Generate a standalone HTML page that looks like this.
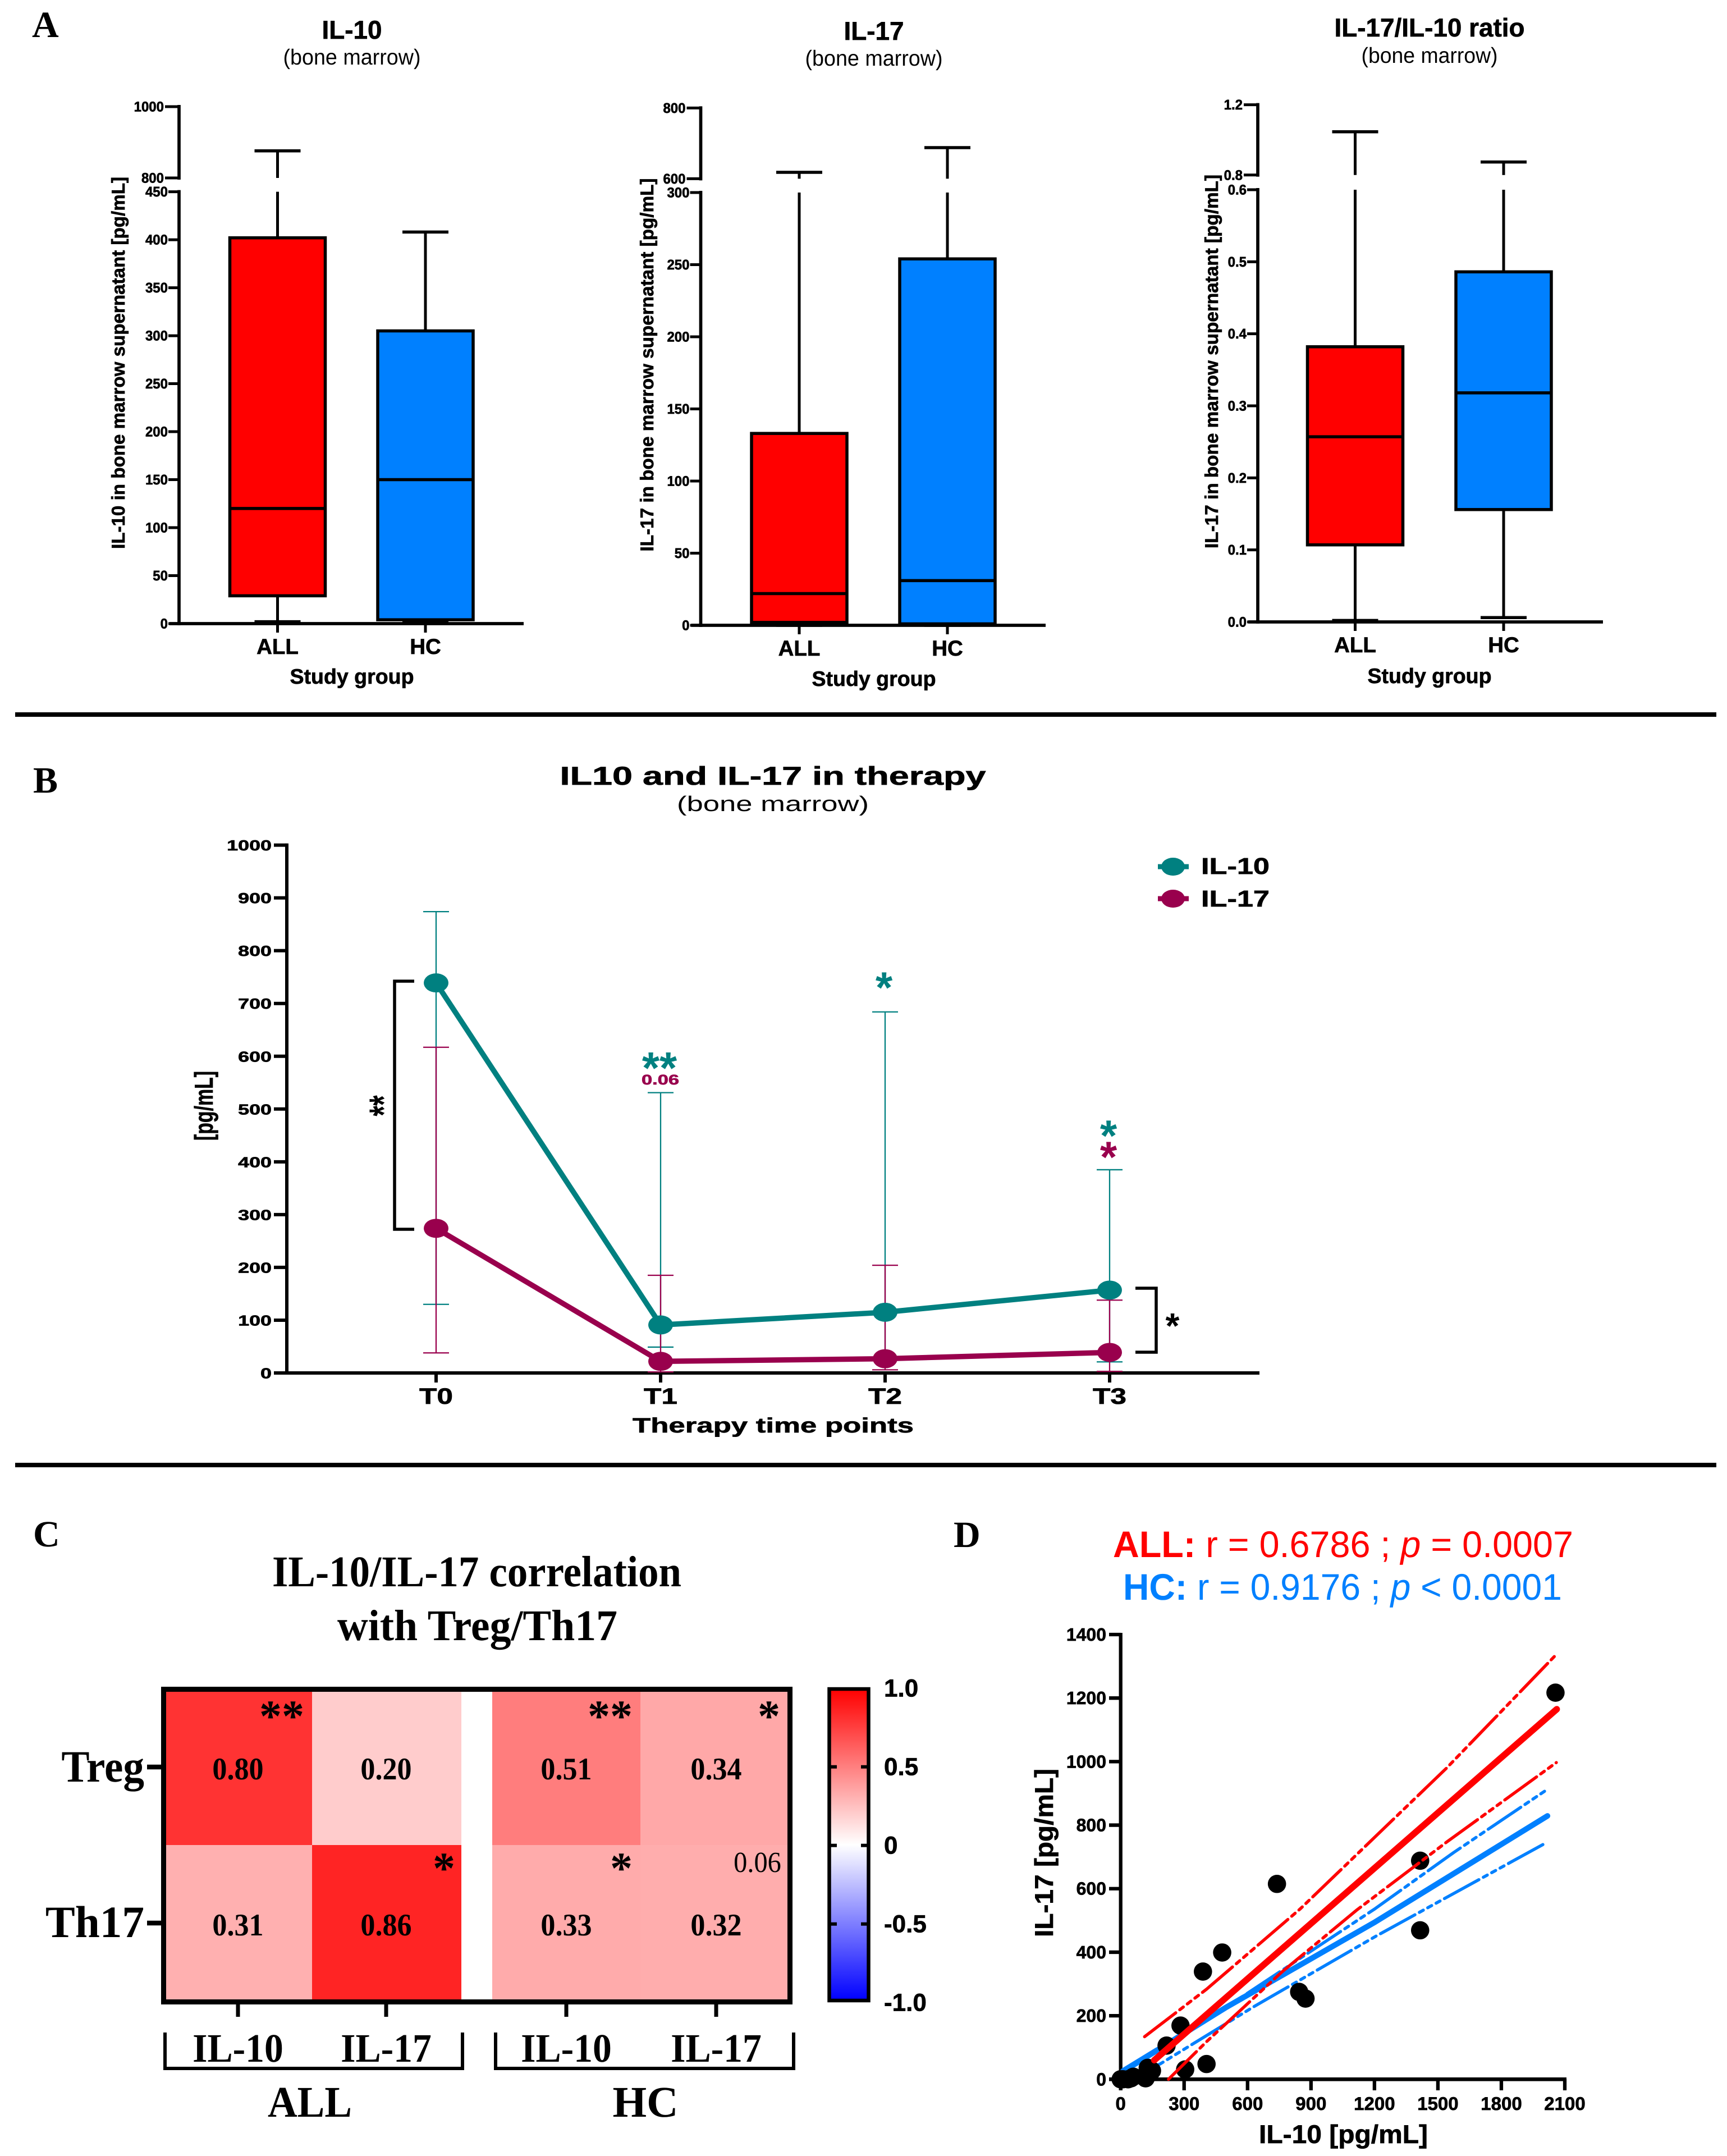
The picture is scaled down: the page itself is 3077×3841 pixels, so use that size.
<!DOCTYPE html>
<html lang="en">
<head>
<meta charset="utf-8">
<title>IL-10 and IL-17 figure</title>
<style>
html,body{margin:0;padding:0;background:#fff;}
svg{display:block;text-rendering:geometricPrecision;}
text{fill:#000;}
.sans{font-family:"Liberation Sans",sans-serif;}
.serif{font-family:"Liberation Serif",serif;}
.b{font-weight:700;}
.fat{stroke:#000;stroke-width:.7px;}
</style>
</head>
<body>
<svg id="chart" xmlns="http://www.w3.org/2000/svg" width="3077" height="3841" viewBox="0 0 3077 3841">
<defs>
<linearGradient id="cbar" x1="0" y1="0" x2="0" y2="1">
<stop offset="0" stop-color="#ff0000"/><stop offset="0.5" stop-color="#ffffff"/><stop offset="1" stop-color="#0000ff"/>
</linearGradient>
</defs>
<rect width="3077" height="3841" fill="#fff"/>
<rect x="27" y="1269" width="3031" height="8" fill="#000"/>
<rect x="27" y="2606" width="3031" height="8" fill="#000"/>

<text class="serif b" x="57" y="66" font-size="66">A</text>
<text class="serif b" x="59" y="1412" font-size="66">B</text>
<text class="serif b" x="59" y="2755" font-size="66">C</text>
<text class="serif b" x="1699" y="2756" font-size="66">D</text>

<text class="sans b fat" x="627" y="69" font-size="46" text-anchor="middle" textLength="107" lengthAdjust="spacingAndGlyphs">IL-10</text>
<text class="sans" x="627" y="115" font-size="39" text-anchor="middle" textLength="245" lengthAdjust="spacingAndGlyphs">(bone marrow)</text>
<text class="sans b fat" font-size="33" text-anchor="middle" textLength="663" lengthAdjust="spacingAndGlyphs" transform="translate(222 646.5) rotate(-90)">IL-10 in bone marrow supernatant [pg/mL]</text>
<text class="sans b fat" x="627" y="1218" font-size="37.5" text-anchor="middle" textLength="221" lengthAdjust="spacingAndGlyphs">Study group</text>

<text class="sans b fat" x="1557" y="71" font-size="46" text-anchor="middle" textLength="107" lengthAdjust="spacingAndGlyphs">IL-17</text>
<text class="sans" x="1557" y="117" font-size="39" text-anchor="middle" textLength="245" lengthAdjust="spacingAndGlyphs">(bone marrow)</text>
<text class="sans b fat" font-size="33" text-anchor="middle" textLength="665" lengthAdjust="spacingAndGlyphs" transform="translate(1164 650) rotate(-90)">IL-17 in bone marrow supernatant [pg/mL]</text>
<text class="sans b fat" x="1557" y="1222" font-size="37.5" text-anchor="middle" textLength="221" lengthAdjust="spacingAndGlyphs">Study group</text>

<text class="sans b fat" x="2547" y="65" font-size="46" text-anchor="middle" textLength="339" lengthAdjust="spacingAndGlyphs">IL-17/IL-10 ratio</text>
<text class="sans" x="2547" y="112" font-size="39" text-anchor="middle" textLength="243" lengthAdjust="spacingAndGlyphs">(bone marrow)</text>
<text class="sans b fat" font-size="33" text-anchor="middle" textLength="666" lengthAdjust="spacingAndGlyphs" transform="translate(2170 644) rotate(-90)">IL-17 in bone marrow supernatant [pg/mL]</text>
<text class="sans b fat" x="2547" y="1217" font-size="37.5" text-anchor="middle" textLength="221" lengthAdjust="spacingAndGlyphs">Study group</text>

<text class="sans b fat" x="1377" y="1398" font-size="46" text-anchor="middle" textLength="759" lengthAdjust="spacingAndGlyphs">IL10 and IL-17 in therapy</text>
<text class="sans" x="1377" y="1445" font-size="38" text-anchor="middle" textLength="342" lengthAdjust="spacingAndGlyphs">(bone marrow)</text>
<text class="sans b fat" font-size="46" text-anchor="middle" textLength="124" lengthAdjust="spacingAndGlyphs" transform="translate(379 1970) rotate(-90)">[pg/mL]</text>
<text class="sans b fat" x="1377.5" y="2552" font-size="37" text-anchor="middle" textLength="501" lengthAdjust="spacingAndGlyphs">Therapy time points</text>
<text class="sans b fat" x="2140" y="1557" font-size="41" textLength="122" lengthAdjust="spacingAndGlyphs">IL-10</text>
<text class="sans b fat" x="2140" y="1615" font-size="41" textLength="122" lengthAdjust="spacingAndGlyphs">IL-17</text>
<text class="sans b" x="1175" y="1930" font-size="80" text-anchor="middle" style="fill:#008080">**</text>
<text class="sans b" x="1176.5" y="1932" font-size="25" text-anchor="middle" textLength="67" lengthAdjust="spacingAndGlyphs" style="fill:#99004d;stroke:#99004d;stroke-width:.7px">0.06</text>
<text class="sans b" x="1575" y="1786" font-size="78" text-anchor="middle" style="fill:#008080">*</text>
<text class="sans b" x="1975" y="2050" font-size="78" text-anchor="middle" style="fill:#008080">*</text>
<text class="sans b" x="1975" y="2088" font-size="78" text-anchor="middle" style="fill:#99004d">*</text>
<polyline points="738,1748 703,1748 703,2190 738,2190" fill="none" stroke="#000" stroke-width="5.5"/>
<text class="sans b" font-size="48" text-anchor="middle" transform="translate(708 1970) rotate(-90) scale(1 1.5)">**</text>
<polyline points="2023,2295 2060,2295 2060,2409 2023,2409" fill="none" stroke="#000" stroke-width="5.5"/>
<text class="sans b" x="2089" y="2384" font-size="64" text-anchor="middle">*</text>

<text class="serif b" x="849.5" y="2826" font-size="78" text-anchor="middle" textLength="729" lengthAdjust="spacingAndGlyphs">IL-10/IL-17 correlation</text>
<text class="serif b" x="850.5" y="2922" font-size="78" text-anchor="middle" textLength="499" lengthAdjust="spacingAndGlyphs">with Treg/Th17</text>
<polyline points="294,3621 294,3685 824,3685 824,3621" fill="none" stroke="#000" stroke-width="6"/>
<polyline points="883,3621 883,3685 1414,3685 1414,3621" fill="none" stroke="#000" stroke-width="6"/>
<text class="serif b" x="552" y="3771" font-size="78" text-anchor="middle" textLength="150" lengthAdjust="spacingAndGlyphs">ALL</text>
<text class="serif b" x="1150" y="3771" font-size="78" text-anchor="middle" textLength="117" lengthAdjust="spacingAndGlyphs">HC</text>

<text class="sans" x="1983" y="2774" font-size="66" textLength="820" lengthAdjust="spacingAndGlyphs" style="fill:#ff0000"><tspan class="b" style="fill:#ff0000">ALL:</tspan> r = 0.6786 ; <tspan font-style="italic" style="fill:#ff0000">p</tspan> = 0.0007</text>
<text class="sans" x="2001" y="2850" font-size="66" textLength="782" lengthAdjust="spacingAndGlyphs" style="fill:#0080ff"><tspan class="b" style="fill:#0080ff">HC:</tspan> r = 0.9176 ; <tspan font-style="italic" style="fill:#0080ff">p</tspan> &lt; 0.0001</text>
<text class="sans b fat" font-size="46" text-anchor="middle" textLength="300" lengthAdjust="spacingAndGlyphs" transform="translate(1876 3301) rotate(-90)">IL-17 [pg/mL]</text>
<text class="sans b fat" x="2393.5" y="3818" font-size="46" text-anchor="middle" textLength="301" lengthAdjust="spacingAndGlyphs">IL-10 [pg/mL]</text>
</svg>

<script>
// ---------- Panel A data: [min, Q1, median, Q3, max] ----------
const groupLabels = ['ALL', 'HC'];
const il10All = [2, 29, 120, 402, 876];
const il10Hc = [3, 4, 150, 305, 408];
const il10LowerTicks = ['0', '50', '100', '150', '200', '250', '300', '350', '400', '450'];
const il10UpperTicks = ['800', '1000'];
const il17All = [0, 2, 22, 133, 618];
const il17Hc = [0, 1, 31, 254, 688];
const il17LowerTicks = ['0', '50', '100', '150', '200', '250', '300'];
const il17UpperTicks = ['600', '800'];
const ratioAll = [0.002, 0.107, 0.257, 0.382, 1.046];
const ratioHc = [0.006, 0.156, 0.318, 0.486, 0.874];
const ratioLowerTicks = ['0.0', '0.1', '0.2', '0.3', '0.4', '0.5', '0.6'];
const ratioUpperTicks = ['0.8', '1.2'];

// ---------- Panel B data ----------
const timePoints = ['T0', 'T1', 'T2', 'T3'];
const il10Mean = [739, 91, 115, 157];
const il10Upper = [874, 531, 684, 385];
const il10Lower = [130, 49, 30, 21];
const il17Mean = [274, 22, 27, 39];
const il17Upper = [617, 185, 204, 138];
const il17Lower = [38, 2, 6, 3];
const therapyTicks = ['0', '100', '200', '300', '400', '500', '600', '700', '800', '900', '1000'];

// ---------- Panel C data ----------
const heatRows = ['Treg', 'Th17'];
const heatCols = ['IL-10', 'IL-17', 'IL-10', 'IL-17'];
const tregValues = [0.80, 0.20, 0.51, 0.34];
const th17Values = [0.31, 0.86, 0.33, 0.32];
const tregStars = ['**', '', '**', '*'];
const th17Stars = ['', '*', '*', ''];
const colorbarTicks = ['1.0', '0.5', '0', '-0.5', '-1.0'];

// ---------- Panel D data ----------
const scatterX = [2056, 1416, 1416, 739, 480, 389, 844, 874, 283, 217, 406, 305, 128, 148, 118, 49, 0, 10, 35, 60];
const scatterY = [1217, 688, 469, 615, 399, 339, 275, 254, 169, 106, 48, 31, 36, 27, 3, 3, 0, 0, 0, 8];
const allFitX = [159, 2062];
const allFitY = [60, 1165];
const allUpperX = [113, 407, 850, 1540, 2058];
const allUpperY = [134, 284, 537, 979, 1336];
const allLowerX = [226, 407, 761, 1115, 1540, 2060];
const allLowerY = [0, 119, 337, 532, 746, 997];
const hcFitX = [5, 495, 1203, 2018];
const hcFitY = [22, 225, 495, 829];
const hcUpperX = [9, 584, 1203, 1575, 2005];
const hcUpperY = [30, 264, 537, 714, 907];
const hcLowerX = [30, 186, 628, 1203, 2005];
const hcLowerY = [5, 48, 228, 449, 742];
const scatterXTicks = ['0', '300', '600', '900', '1200', '1500', '1800', '2100'];
const scatterYTicks = ['0', '200', '400', '600', '800', '1000', '1200', '1400'];

// ---------- Helpers ----------
const NS = 'http://www.w3.org/2000/svg';
const svg = document.getElementById('chart');
const RED = '#ff0000', BLUE = '#0080ff', TEAL = '#008080', MAROON = '#99004d';

function mk(tag, attrs, name) {
  const el = document.createElementNS(NS, tag);
  for (const k in attrs) el.setAttribute(k, attrs[k]);
  
  
  svg.appendChild(el);
  return el;
}
function line(x1, y1, x2, y2, stroke, w, name) {
  return mk('line', { x1: x1, y1: y1, x2: x2, y2: y2, stroke: stroke, 'stroke-width': w }, name);
}
function label(str, x, y, size, opts, name) {
  const o = opts || {};
  const el = mk('text', {
    'font-size': size,
    'text-anchor': o.anchor || 'middle',
    'font-family': o.serif ? '"Liberation Serif",serif' : '"Liberation Sans",sans-serif',
    'font-weight': o.weight || 700,
    transform: 'translate(' + x + ' ' + y + ') scale(' + (o.sx || 1) + ' 1)'
  }, name);
  if (!o.serif) el.setAttribute('class', 'fat');
  el.textContent = str;
  return el;
}

// ---------- Panel A ----------
function boxPanel(c) {
  const lowVals = c.lower.map(Number), upVals = c.upper.map(Number);
  const lowMax = lowVals[lowVals.length - 1], upLo = upVals[0], upHi = upVals[1];
  const y = function (v) {
    if (v <= lowMax) return c.y0 - (v / lowMax) * (c.y0 - c.yLowTop);
    return c.yUpLo - ((v - upLo) / (upHi - upLo)) * (c.yUpLo - c.yUpHi);
  };
  // axes
  line(c.ax, c.yLowTop - 3, c.ax, c.y0 + 3, '#000', 5.7, c.id + '-y-axis-lower');
  line(c.ax, c.yUpHi - 3, c.ax, c.yUpLo + 3, '#000', 5.7, c.id + '-y-axis-upper');
  line(c.ax - 17, c.y0, c.xEnd, c.y0, '#000', 5.7, c.id + '-x-axis');
  c.lower.forEach(function (t) {
    const ty = y(Number(t));
    line(c.ax - 19, ty, c.ax, ty, '#000', 5, c.id + '-y-tick');
    label(t, c.ax - 20, ty + 8.5, 25, { anchor: 'end', sx: 0.96 }, c.id + '-y-tick-label');
  });
  c.upper.forEach(function (t) {
    const ty = y(Number(t));
    line(c.ax - 25, ty, c.ax, ty, '#000', 5, c.id + '-y-tick');
    label(t, c.ax - 27, ty + 8.5, 25, { anchor: 'end', sx: 0.96 }, c.id + '-y-tick-label');
  });
  // boxes
  c.series.forEach(function (s, i) {
    const cx = c.xs[i], col = i === 0 ? RED : BLUE, g = groupLabels[i].toLowerCase();
    const mn = s[0], q1 = s[1], med = s[2], q3 = s[3], mx = s[4];
    line(cx, c.y0, cx, c.y0 + 16, '#000', 5, c.id + '-x-tick-' + g);
    line(cx, y(q1), cx, y(mn), '#000', 5, c.id + '-lower-whisker-' + g);
    line(cx - 41, y(mn), cx + 41, y(mn), '#000', 5.5, c.id + '-lower-cap-' + g);
    if (mx > lowMax) {
      line(cx, y(mx), cx, c.yUpLo, '#000', 5, c.id + '-upper-whisker-top-' + g);
      line(cx, c.yLowTop, cx, y(q3), '#000', 5, c.id + '-upper-whisker-bottom-' + g);
    } else {
      line(cx, y(mx), cx, y(q3), '#000', 5, c.id + '-upper-whisker-' + g);
    }
    line(cx - 41, y(mx), cx + 41, y(mx), '#000', 5.5, c.id + '-upper-cap-' + g);
    mk('rect', { x: cx - 85, y: y(q3), width: 170, height: y(q1) - y(q3), fill: col, stroke: '#000', 'stroke-width': 5.5 }, c.id + '-box-' + g);
    line(cx - 85, y(med), cx + 85, y(med), '#000', 5.5, c.id + '-median-' + g);
    label(groupLabels[i], cx, c.y0 + 54, 38.5, {}, c.id + '-category-label-' + g);
  });
}
boxPanel({ id: 'il10', ax: 319, y0: 1111, yLowTop: 341.6, yUpLo: 317, yUpHi: 190, xEnd: 933, xs: [494.5, 758], lower: il10LowerTicks, upper: il10UpperTicks, series: [il10All, il10Hc] });
boxPanel({ id: 'il17', ax: 1248.5, y0: 1114, yLowTop: 343, yUpLo: 318.4, yUpHi: 192.4, xEnd: 1863, xs: [1424, 1688], lower: il17LowerTicks, upper: il17UpperTicks, series: [il17All, il17Hc] });
boxPanel({ id: 'ratio', ax: 2241, y0: 1108, yLowTop: 338, yUpLo: 311.8, yUpHi: 186.6, xEnd: 2856, xs: [2414.5, 2679], lower: ratioLowerTicks, upper: ratioUpperTicks, series: [ratioAll, ratioHc] });

// ---------- Panel B ----------
const tY = function (v) { return 2446 - (v / 1000) * 940.4; };
const tX = function (i) { return 777 + i * 400; };
line(511, 1502.6, 511, 2449, '#000', 6, 'therapy-y-axis');
line(488, 2446, 2244, 2446, '#000', 6, 'therapy-x-axis');
therapyTicks.forEach(function (t) {
  line(488, tY(Number(t)), 511, tY(Number(t)), '#000', 6, 'therapy-y-tick');
  label(t, 484, tY(Number(t)) + 9.5, 26, { anchor: 'end', sx: 1.38 }, 'therapy-y-tick-label');
});
timePoints.forEach(function (t, i) {
  line(tX(i), 2446, tX(i), 2463, '#000', 6, 'therapy-x-tick');
  label(t, tX(i), 2501, 40, { sx: 1.285 }, 'therapy-x-tick-label');
});
function errorBars(up, low, col, name) {
  up.forEach(function (u, i) {
    const x = tX(i);
    line(x, tY(u), x, tY(low[i]), col, 2.3, name + '-error-bar');
    line(x - 23, tY(u), x + 23, tY(u), col, 2.3, name + '-error-cap-upper');
    line(x - 23, tY(low[i]), x + 23, tY(low[i]), col, 2.3, name + '-error-cap-lower');
  });
}
function meanSeries(vals, col, name) {
  mk('polyline', { points: vals.map(function (v, i) { return tX(i) + ',' + tY(v); }).join(' '), fill: 'none', stroke: col, 'stroke-width': 9.5 }, name + '-line');
  vals.forEach(function (v, i) {
    mk('ellipse', { cx: tX(i), cy: tY(v), rx: 22, ry: 17, fill: col }, name + '-point');
  });
}
errorBars(il10Upper, il10Lower, TEAL, 'il10');
errorBars(il17Upper, il17Lower, MAROON, 'il17');
meanSeries(il10Mean, TEAL, 'il10');
meanSeries(il17Mean, MAROON, 'il17');
line(2063, 1544, 2118, 1544, TEAL, 9, 'legend-line-il10');
mk('ellipse', { cx: 2090, cy: 1544, rx: 21, ry: 16, fill: TEAL }, 'legend-marker-il10');
line(2063, 1601, 2118, 1601, MAROON, 9, 'legend-line-il17');
mk('ellipse', { cx: 2090, cy: 1601, rx: 21, ry: 16, fill: MAROON }, 'legend-marker-il17');

// ---------- Panel C ----------
const colLeftEdge = [296, 556, 877, 1141];
const colRightEdge = [556, 822, 1141, 1405];
const heatColor = function (v) {
  const c = Math.round(255 * (1 - v));
  return 'rgb(255,' + c + ',' + c + ')';
};
const rowTop = [3014, 3287], rowBottom = [3287, 3562], rowBase = [3170, 3448], rowTick = [3148, 3426], rowLabelBase = [3174, 3451], rowStarBase = [3084, 3355], rowLabelScale = [0.94, 0.99];
[tregValues, th17Values].forEach(function (vals, r) {
  vals.forEach(function (v, c) {
    mk('rect', { x: colLeftEdge[c], y: rowTop[r], width: colRightEdge[c] - colLeftEdge[c], height: rowBottom[r] - rowTop[r], fill: heatColor(v) }, 'heat-cell-' + heatRows[r].toLowerCase() + '-' + c);
  });
});
mk('rect', { x: 291.5, y: 3009.5, width: 1116, height: 557, fill: 'none', stroke: '#000', 'stroke-width': 9 }, 'heatmap-frame');
const colCenter = [424, 688, 1009, 1276];
[tregValues, th17Values].forEach(function (vals, r) {
  vals.forEach(function (v, c) {
    label(v.toFixed(2), colCenter[c], rowBase[r], 56, { serif: true, sx: 0.93 }, 'heat-value-' + heatRows[r].toLowerCase() + '-' + c);
  });
  line(262, rowTick[r], 288, rowTick[r], '#000', 8.6, 'heat-y-tick');
  label(heatRows[r], 257, rowLabelBase[r], 80, { serif: true, anchor: 'end', sx: rowLabelScale[r] }, 'heat-row-label-' + heatRows[r].toLowerCase());
});
const starCenter = [[502, 0, 1087, 1370], [0, 791, 1107, 0]];
[tregStars, th17Stars].forEach(function (stars, r) {
  stars.forEach(function (s, c) {
    if (s) label(s, starCenter[r][c], rowStarBase[r], 80, { serif: true }, 'heat-significance');
  });
});
label('0.06', 1349.5, 3335, 52, { serif: true, weight: 400, sx: 0.93 }, 'heat-p-value');
heatCols.forEach(function (t, c) {
  line(colCenter[c], 3566, colCenter[c], 3593, '#000', 7, 'heat-x-tick');
  label(t, colCenter[c], 3673, 72, { serif: true, sx: 0.94 }, 'heat-column-label');
});
// colour bar
mk('rect', { x: 1477.5, y: 3009, width: 70, height: 555, fill: 'url(#cbar)', stroke: '#000', 'stroke-width': 6.5 }, 'colorbar');
const cbY = function (v) { return 3287.7 - v * 280; };
colorbarTicks.forEach(function (t) {
  const y = cbY(Number(t));
  if (Math.abs(Number(t)) < 1) {
    line(1480, y, 1491, y, '#000', 6, 'colorbar-tick-left');
    line(1534, y, 1545, y, '#000', 6, 'colorbar-tick-right');
  }
  label(t, 1575, y + 15, 44, { anchor: 'start' }, 'colorbar-tick-label');
});

// ---------- Panel D ----------
const sX = function (v) { return 1996.7 + (v / 2100) * 791.3; };
const sY = function (v) { return 3704.3 - (v / 1400) * 792.3; };
function fitLine(xs, ys, col, w, dashed, name) {
  const attrs = {
    points: xs.map(function (x, i) { return sX(x) + ',' + sY(ys[i]); }).join(' '),
    fill: 'none', stroke: col, 'stroke-width': w, 'stroke-linecap': 'round', 'stroke-linejoin': 'round'
  };
  if (dashed) attrs['stroke-dasharray'] = '70 9 8 9 8 9 8 9';
  return mk('polyline', attrs, name);
}
line(1996.7, 2909, 1996.7, 3724, '#000', 6.3, 'scatter-y-axis');
line(1976, 3704.3, sX(2100) + 3, 3704.3, '#000', 6.6, 'scatter-x-axis');
scatterYTicks.forEach(function (t) {
  const y = sY(Number(t));
  line(1976, y, 1997, y, '#000', 6.3, 'scatter-y-tick');
  label(t, 1971, y + 11, 32, { anchor: 'end' }, 'scatter-y-tick-label');
});
scatterXTicks.forEach(function (t) {
  const x = sX(Number(t));
  line(x, 3704, x, 3724, '#000', 6.3, 'scatter-x-tick');
  label(t, x, 3759, 33, {}, 'scatter-x-tick-label');
});
fitLine(hcUpperX, hcUpperY, BLUE, 5.5, true, 'hc-upper-confidence-band');
fitLine(hcLowerX, hcLowerY, BLUE, 5.5, true, 'hc-lower-confidence-band');
fitLine(hcFitX, hcFitY, BLUE, 10, false, 'hc-regression-line');
scatterX.forEach(function (x, i) {
  mk('circle', { cx: sX(x), cy: sY(scatterY[i]), r: 16.3, fill: '#000' }, 'scatter-point');
});
fitLine(allUpperX, allUpperY, RED, 5.5, true, 'all-upper-confidence-band');
fitLine(allLowerX, allLowerY, RED, 5.5, true, 'all-lower-confidence-band');
fitLine(allFitX, allFitY, RED, 11.5, false, 'all-regression-line');
</script>
</body>
</html>
